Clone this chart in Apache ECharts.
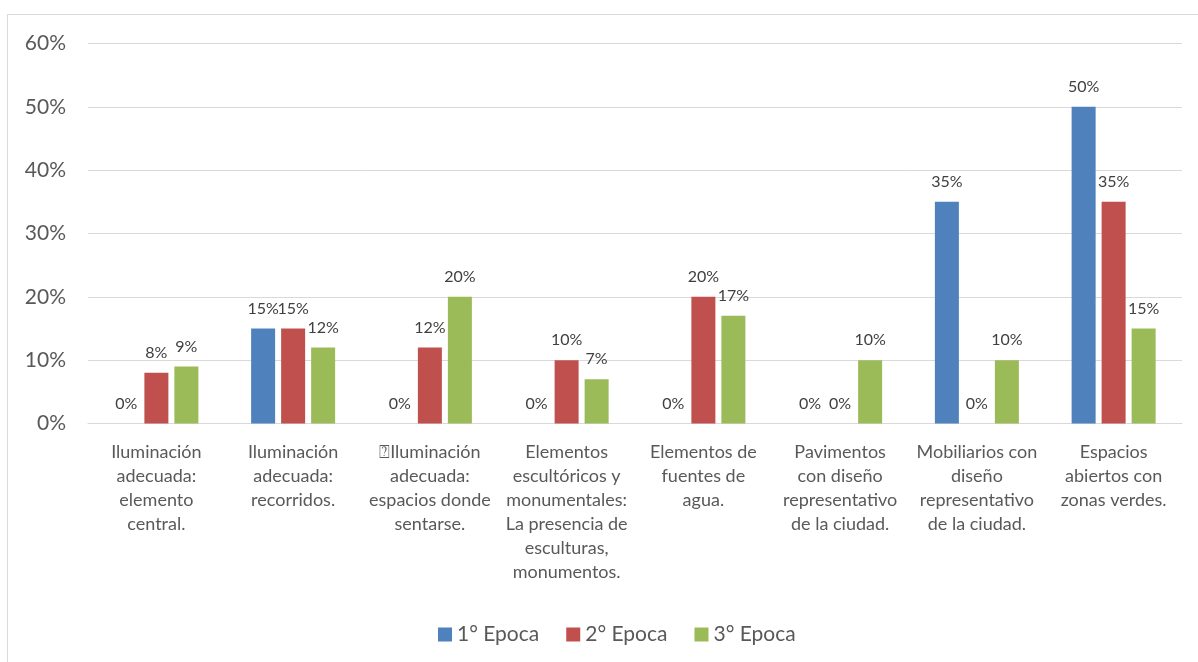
<!DOCTYPE html>
<html>
<head>
<meta charset="utf-8">
<script src="https://cdn.jsdelivr.net/npm/echarts@6/dist/echarts.min.js"></script>
<style>
html,body{margin:0;padding:0;background:#fff;}
#c{width:1198px;height:662px;}
</style>
</head>
<body>
<div id="c"></div>
<script>
const categories = [
  "Iluminación\nadecuada:\nelemento\ncentral.",
  "Iluminación\nadecuada:\nrecorridos.",
  "\u2370Iluminación\nadecuada:\nespacios donde\nsentarse.",
  "Elementos\nescultóricos y\nmonumentales:\nLa presencia de\nesculturas,\nmonumentos.",
  "Elementos de\nfuentes de\nagua.",
  "Pavimentos\ncon diseño\nrepresentativo\nde la ciudad.",
  "Mobiliarios con\ndiseño\nrepresentativo\nde la ciudad.",
  "Espacios\nabiertos con\nzonas verdes."
];
const seriesNames = ["1° Epoca", "2° Epoca", "3° Epoca"];
const epoca1 = [0, 15, 0, 0, 0, 0, 35, 50];
const epoca2 = [8, 15, 12, 10, 20, 0, 0, 35];
const epoca3 = [9, 12, 20, 7, 17, 10, 10, 15];
const yTicks = [0, 10, 20, 30, 40, 50, 60];
const colors = ["#4f81bd", "#c0504d", "#9bbb59"];

const FONT = "Lato, 'Open Sans', 'DejaVu Sans', sans-serif";
const chart = echarts.init(document.getElementById('c'), null, {renderer: 'canvas'});

function mk(name, data, color) {
  return {
    name: name,
    type: 'bar',
    data: data,
    barWidth: 24,
    barGap: '25%',
    itemStyle: {color: color},
    label: {
      show: true,
      position: 'top',
      distance: 12,
      formatter: p => p.value + '%',
      color: '#404040',
      fontSize: 16,
      fontFamily: FONT
    }
  };
}

chart.setOption({
  animation: false,
  backgroundColor: '#fff',
  color: colors,
  graphic: [{
    type: 'rect',
    shape: {x: 7.5, y: 14.5, width: 1220, height: 700},
    style: {fill: 'none', stroke: '#d9d9d9', lineWidth: 1},
    silent: true,
    z: -1
  }],
  grid: {left: 88, right: 16, top: 43.5, bottom: 238.5, containLabel: false},
  legend: {
    data: seriesNames,
    bottom: 12,
    left: 433,
    itemWidth: 14,
    itemHeight: 14,
    itemGap: 27,
    icon: 'rect',
    textStyle: {color: '#595959', fontSize: 21, fontFamily: FONT}
  },
  xAxis: {
    type: 'category',
    data: categories,
    axisLine: {show: true, lineStyle: {color: '#d9d9d9', width: 1}},
    axisTick: {show: false},
    axisLabel: {
      interval: 0,
      margin: 17,
      color: '#595959',
      fontSize: 18,
      lineHeight: 24,
      fontFamily: FONT,
      align: 'center',
      verticalAlign: 'top'
    }
  },
  yAxis: {
    type: 'value',
    min: yTicks[0],
    max: yTicks[yTicks.length - 1],
    interval: 10,
    axisLine: {show: false},
    axisTick: {show: false},
    splitLine: {lineStyle: {color: '#d9d9d9', width: 1}},
    axisLabel: {
      formatter: v => v + '%',
      color: '#595959',
      fontSize: 21,
      fontFamily: FONT,
      margin: 22
    }
  },
  series: [
    mk(seriesNames[0], epoca1, colors[0]),
    mk(seriesNames[1], epoca2, colors[1]),
    mk(seriesNames[2], epoca3, colors[2])
  ]
});
</script>
</body>
</html>
